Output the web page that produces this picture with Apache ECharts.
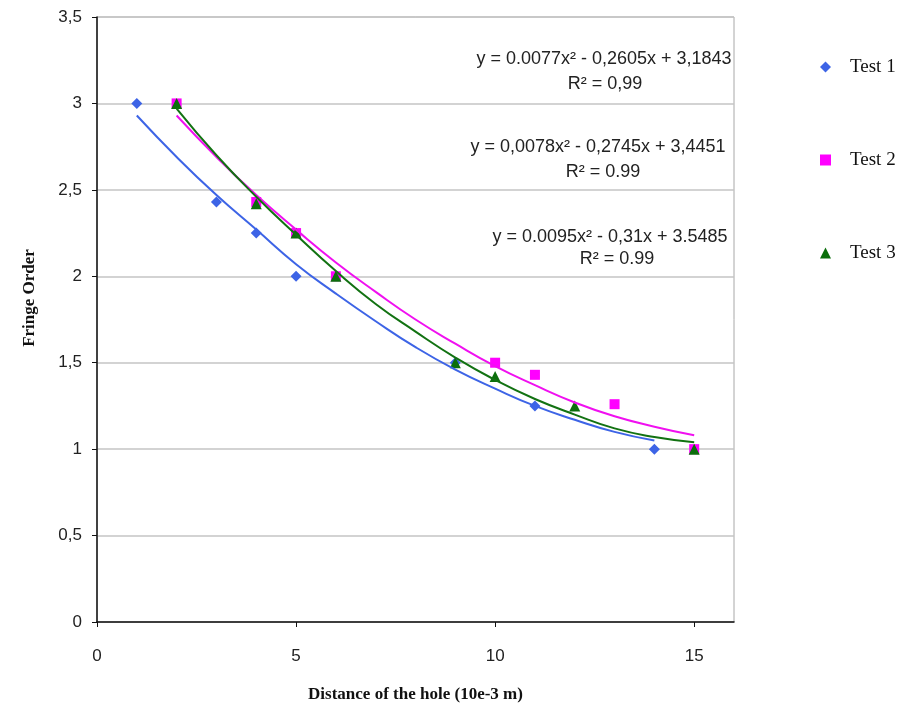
<!DOCTYPE html>
<html>
<head>
<meta charset="utf-8">
<script src="https://cdn.jsdelivr.net/npm/echarts@6/dist/echarts.min.js"></script>
<style>
html, body { margin: 0; padding: 0; background: #fff; }
#chart { width: 908px; height: 715px; }
</style>
</head>
<body>
<div id="chart"></div>
<script>
// measured points
var test1X = [1, 3, 4, 5, 9, 11, 14];
var test1Y = [3, 2.43, 2.25, 2, 1.5, 1.25, 1];
var test2X = [2, 4, 5, 6, 10, 11, 13, 15];
var test2Y = [3, 2.43, 2.25, 2, 1.5, 1.43, 1.26, 1];
var test3X = [2, 4, 5, 6, 9, 10, 12, 15];
var test3Y = [3, 2.42, 2.25, 2, 1.5, 1.42, 1.25, 1];

// trend curves
var trend1X = [1, 2, 3, 4, 5, 6, 7, 8, 9, 10, 11, 12, 13, 14];
var trend1Y = [2.93, 2.69, 2.47, 2.27, 2.07, 1.90, 1.74, 1.59, 1.46, 1.35, 1.25, 1.17, 1.10, 1.05];
var trend2X = [2, 3, 4, 5, 6, 7, 8, 9, 10, 11, 12, 13, 14, 15];
var trend2Y = [2.93, 2.69, 2.47, 2.27, 2.08, 1.91, 1.75, 1.61, 1.48, 1.37, 1.27, 1.19, 1.13, 1.08];
var trend3X = [2, 3, 4, 5, 6, 7, 8, 9, 10, 11, 12, 13, 14, 15];
var trend3Y = [2.97, 2.70, 2.46, 2.24, 2.03, 1.84, 1.68, 1.53, 1.40, 1.29, 1.20, 1.12, 1.07, 1.04];

var seriesNames = ['Test 1', 'Test 2', 'Test 3'];
var xTicks = [0, 5, 10, 15];
var equations = [
	'y = 0.0077x² - 0,2605x + 3,1843',
	'y = 0,0078x² - 0,2745x + 3,4451',
	'y = 0.0095x² - 0,31x + 3.5485'
];
var rSquared = ['R² = 0,99', 'R² = 0.99', 'R² = 0.99'];

function pairs(xs, ys) {
	var out = [];
	for (var i = 0; i < xs.length; i++) out.push([xs[i], ys[i]]);
	return out;
}

var colors = ['#3d64e6', '#ff00ff', '#0b6e0b'];
var lineColors = ['#3d64e6', '#f010f0', '#127212'];
var symbols = ['diamond', 'rect', 'triangle'];
var symbolSizes = [11, 10, 11];
var eqPos = [[604, 59, 605, 84], [598, 147, 603, 172], [610, 237, 617, 259]];

var chart = echarts.init(document.getElementById('chart'));

var series = [];
var pts = [pairs(test1X, test1Y), pairs(test2X, test2Y), pairs(test3X, test3Y)];
var trends = [pairs(trend1X, trend1Y), pairs(trend2X, trend2Y), pairs(trend3X, trend3Y)];
for (var k = 0; k < 3; k++) {
	series.push({
		name : seriesNames[k],
		type : 'scatter',
		symbol : symbols[k],
		symbolSize : symbolSizes[k],
		itemStyle : { color : colors[k], opacity : 1 },
		data : pts[k],
		z : 2
	});
}
for (var k = 0; k < 3; k++) {
	series.push({
		name : 'trend' + (k + 1),
		type : 'line',
		smooth : true,
		showSymbol : false,
		symbol : 'none',
		lineStyle : { color : lineColors[k], width : 2 },
		data : trends[k],
		z : 3,
		silent : true
	});
}

var graphics = [];
for (var k = 0; k < 3; k++) {
	graphics.push({
		type : 'text', x : eqPos[k][0], y : eqPos[k][1],
		style : { text : equations[k], fill : '#222', font : '18px "Liberation Sans", Arial',
			align : 'center', verticalAlign : 'middle' }
	});
	graphics.push({
		type : 'text', x : eqPos[k][2], y : eqPos[k][3],
		style : { text : rSquared[k], fill : '#222', font : '18px "Liberation Sans", Arial',
			align : 'center', verticalAlign : 'middle' }
	});
}
// y axis title, placed a little above the middle like the original
graphics.push({
	type : 'text', x : 30, y : 298, rotation : Math.PI / 2,
	style : { text : 'Fringe Order', fill : '#111',
		font : 'bold 17px "Liberation Serif", "Times New Roman"',
		align : 'center', verticalAlign : 'middle' }
});

var option = {
	backgroundColor : '#fff',
	animation : false,
	grid : {
		left : 97, right : 174, top : 17, bottom : 93,
		show : true, borderColor : '#a8a8a8', borderWidth : 1
	},
	legend : {
		data : seriesNames,
		orient : 'vertical',
		left : 815, top : 52,
		itemWidth : 11, itemHeight : 11,
		itemGap : 73,
		textStyle : { fontFamily : '"Liberation Serif", "Times New Roman"', fontSize : 19,
			color : '#111', lineHeight : 20, padding : [0, 0, 0, 14] }
	},
	xAxis : {
		type : 'value',
		min : 0, max : 16, interval : 5,
		name : 'Distance of the hole (10e-3 m)',
		nameLocation : 'middle',
		nameGap : 64,
		nameTextStyle : { fontFamily : '"Liberation Serif", "Times New Roman"', fontWeight : 'bold',
			fontSize : 17, color : '#111' },
		axisLine : { lineStyle : { color : '#111', width : 1.5 } },
		axisTick : { show : true, length : 5, lineStyle : { color : '#111' }, customValues : xTicks },
		axisLabel : { customValues : xTicks, margin : 26, fontFamily : '"Liberation Sans", Arial',
			fontSize : 17, color : '#222' },
		splitLine : { show : false }
	},
	yAxis : {
		type : 'value',
		min : 0, max : 3.5, interval : 0.5,
		axisLine : { show : true, lineStyle : { color : '#111', width : 1.5 } },
		axisTick : { show : true, length : 5, lineStyle : { color : '#111' } },
		axisLabel : { margin : 15, fontFamily : '"Liberation Sans", Arial', fontSize : 17, color : '#222',
			formatter : function (v) { return String(v).replace('.', ','); } },
		splitLine : { show : true, lineStyle : { color : '#c4c4c4', width : 1.5 } }
	},
	graphic : graphics,
	series : series
};
chart.setOption(option);
</script>
</body>
</html>
